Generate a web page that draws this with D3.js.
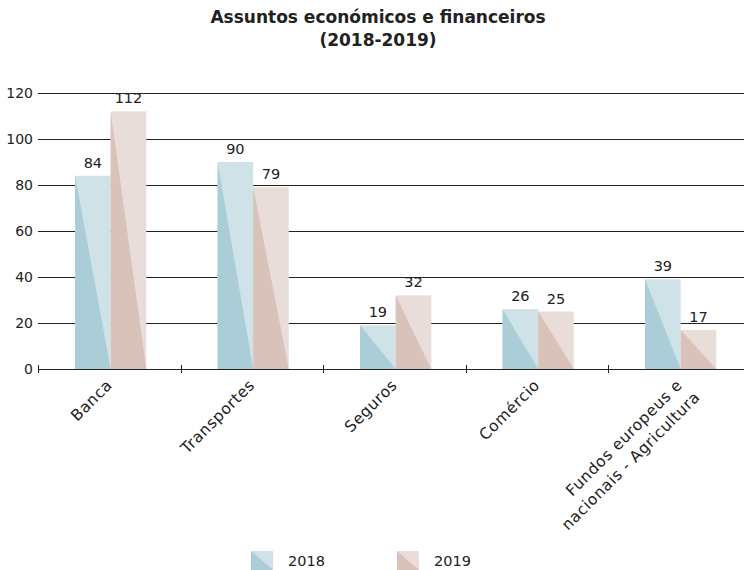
<!DOCTYPE html>
<html>
<head>
<meta charset="utf-8">
<script src="https://cdn.jsdelivr.net/npm/d3@7"></script>
<style>
  body { margin: 0; background: #fff; }
  text { font-family: "DejaVu Sans", "Open Sans", sans-serif; fill: #222; }
</style>
</head>
<body>
<div id="chart"></div>
<script>
// Chart data
const categories = ["Banca", "Transportes", "Seguros", "Comércio", "Fundos europeus e\nnacionais - Agricultura"];
const years = ["2018", "2019"];
const values2018 = [84, 90, 19, 26, 39];
const values2019 = [112, 79, 32, 25, 17];
const yTicks = [0, 20, 40, 60, 80, 100, 120];

// Colours: [light, dark] per year
const palette = {
  "2018": ["#cfe2e7", "#aacdd8"],
  "2019": ["#e9ddd9", "#d9c2ba"],
};

const W = 744, H = 570;
const plot = { left: 38, right: 750.5, top: 93, bottom: 369 };

const svg = d3.select("#chart").append("svg")
  .attr("width", W).attr("height", H);

// Title
svg.append("text")
  .attr("x", 378).attr("y", 23)
  .attr("text-anchor", "middle")
  .style("font-size", "17px").style("font-weight", "bold")
  .text("Assuntos económicos e financeiros");
svg.append("text")
  .attr("x", 378).attr("y", 46)
  .attr("text-anchor", "middle")
  .style("font-size", "17px").style("font-weight", "bold")
  .text("(2018-2019)");

// Scales
const x = d3.scaleBand().domain(categories).range([plot.left, plot.right]);
const x1 = d3.scaleBand().domain(years).range([x.bandwidth() * 0.26, x.bandwidth() * 0.76]);
const y = d3.scaleLinear().domain([0, 120]).range([plot.bottom, plot.top]);

// Gridlines and y labels
svg.selectAll(".grid").data(yTicks).enter().append("line")
  .attr("x1", plot.left).attr("x2", W)
  .attr("y1", (d) => y(d)).attr("y2", (d) => y(d))
  .attr("stroke", "#222").attr("stroke-width", 1)
  .attr("shape-rendering", "crispEdges");

svg.selectAll(".ylab").data(yTicks).enter().append("text")
  .attr("x", 33).attr("y", (d) => y(d) + 5)
  .attr("text-anchor", "end")
  .style("font-size", "14px")
  .text((d) => d);

// Category ticks on baseline
const tickXs = [plot.left].concat(categories.slice(1).map((c) => x(c)));
svg.selectAll(".xtick").data(tickXs).enter().append("line")
  .attr("x1", (d) => Math.round(d) + 0.5).attr("x2", (d) => Math.round(d) + 0.5)
  .attr("y1", plot.bottom - 4).attr("y2", plot.bottom + 4)
  .attr("stroke", "#222");

// Bars
const rows = [];
categories.forEach((c, i) => {
  rows.push({ cat: c, year: "2018", value: values2018[i] });
  rows.push({ cat: c, year: "2019", value: values2019[i] });
});

const bars = svg.selectAll(".bar").data(rows).enter().append("g")
  .attr("transform", (d) => `translate(${x(d.cat) + x1(d.year)},0)`);

bars.append("rect")
  .attr("x", 0).attr("width", x1.bandwidth())
  .attr("y", (d) => y(d.value)).attr("height", (d) => y(0) - y(d.value))
  .attr("fill", (d) => palette[d.year][0]);

bars.append("path")
  .attr("d", (d) => `M0,${y(d.value)}L0,${y(0)}L${x1.bandwidth()},${y(0)}Z`)
  .attr("fill", (d) => palette[d.year][1]);

bars.append("text")
  .attr("x", x1.bandwidth() / 2)
  .attr("y", (d) => y(d.value) - 8)
  .attr("text-anchor", "middle")
  .style("font-size", "14.5px")
  .text((d) => d.value);

// Re-draw baseline on top of bars
svg.append("line")
  .attr("x1", plot.left).attr("x2", W)
  .attr("y1", y(0)).attr("y2", y(0))
  .attr("stroke", "#222").attr("shape-rendering", "crispEdges");

// Rotated category labels
categories.forEach((c) => {
  const t = svg.append("text")
    .attr("transform", `translate(${x(c) + x.bandwidth() / 2 + 4},${plot.bottom + 17}) rotate(-45)`)
    .attr("text-anchor", "end")
    .style("font-size", "15.5px")
    .style("letter-spacing", "0.6px");
  c.split("\n").forEach((line, i) => {
    t.append("tspan").attr("x", i === 0 ? 0 : 4).attr("dy", i === 0 ? 0 : 21).text(line);
  });
});

// Legend
const legendX = [251, 397];
years.forEach((yr, i) => {
  const g = svg.append("g").attr("transform", `translate(${legendX[i]},551)`);
  g.append("rect").attr("width", 22).attr("height", 19).attr("fill", palette[yr][0]);
  g.append("path").attr("d", "M0,0L0,19L22,19Z").attr("fill", palette[yr][1]);
  g.append("text").attr("x", 37).attr("y", 15).style("font-size", "14.5px").text(yr);
});
</script>
</body>
</html>
